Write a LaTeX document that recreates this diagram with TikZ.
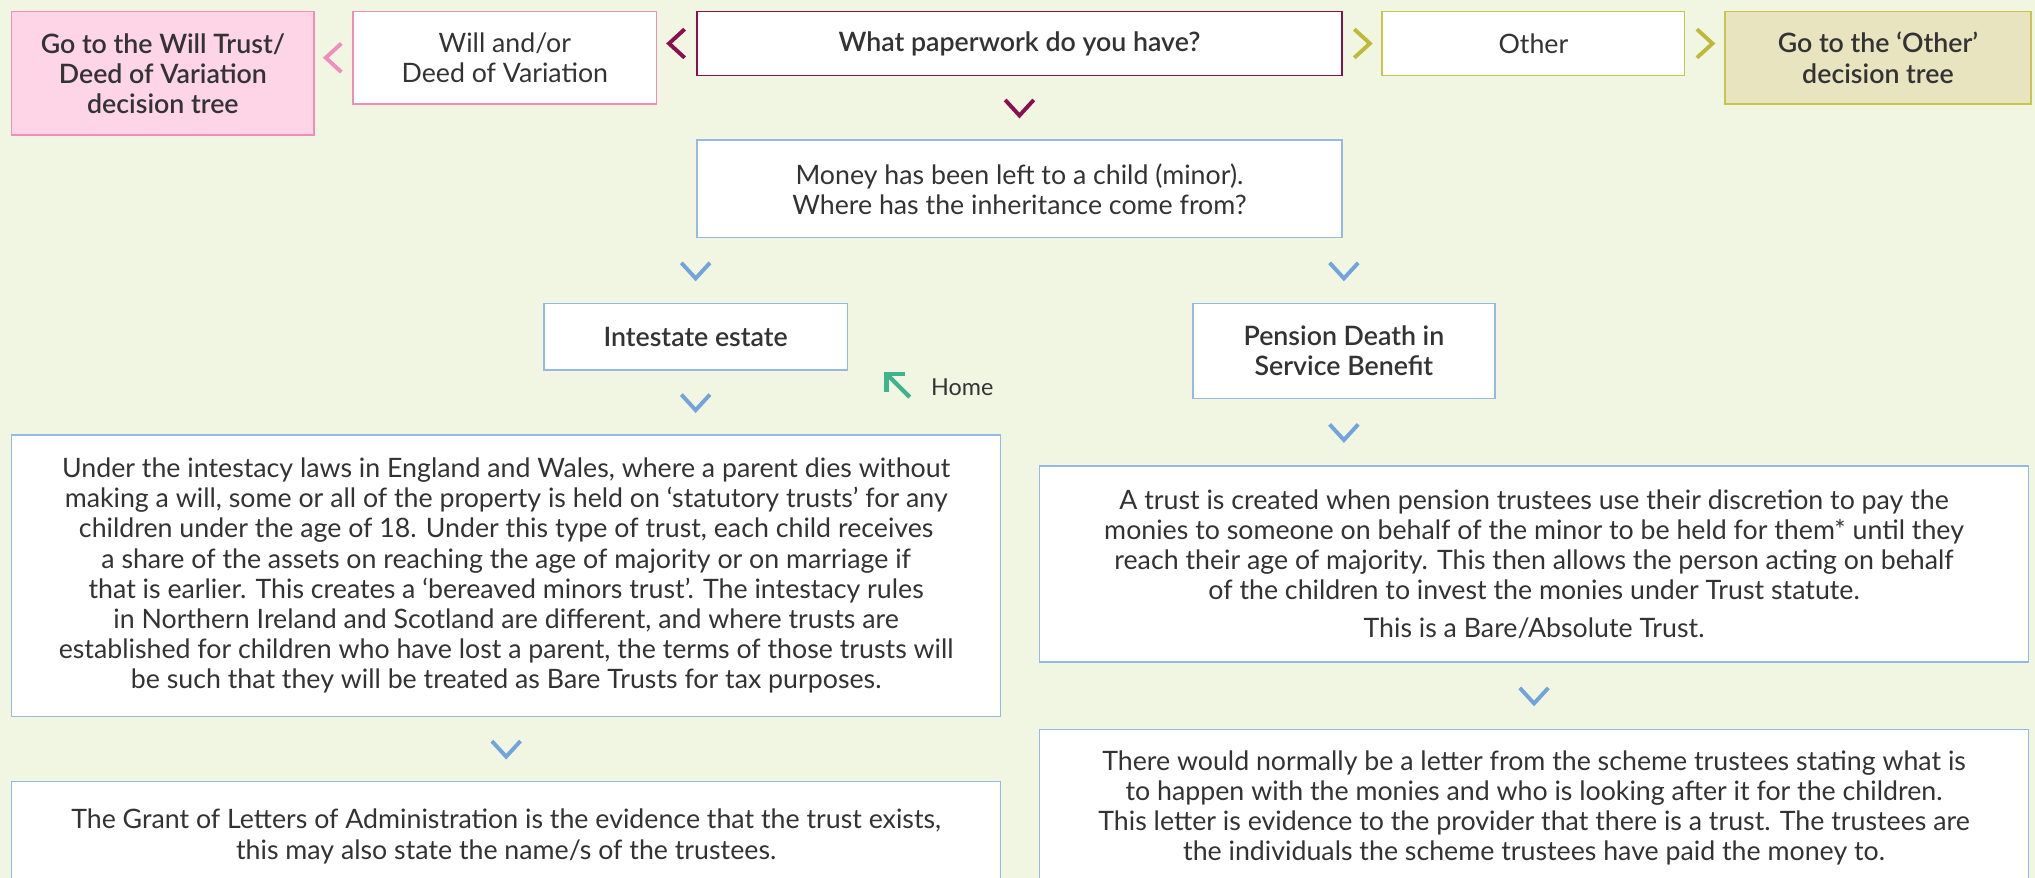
\documentclass[tikz,border=0pt]{standalone}
\usepackage{fontspec}
\setmainfont{Lato}[BoldFont={Lato Semibold}]
\usetikzlibrary{calc}
\definecolor{bg}{HTML}{F1F6E3}
\definecolor{txt}{HTML}{333333}
\definecolor{pinkfill}{HTML}{FDD5E7}
\definecolor{pinkline}{HTML}{F08DB8}
\definecolor{maroon}{HTML}{8B0F4D}
\definecolor{olive}{HTML}{C8C44E}
\definecolor{olivechev}{HTML}{BDBA3A}
\definecolor{othfill}{HTML}{E8E4BF}
\definecolor{blueline}{HTML}{94B9E3}
\definecolor{bluechev}{HTML}{72A3DA}
\definecolor{teal}{HTML}{3DB48C}
\tikzset{
  box/.style={draw, fill=white, align=center, inner sep=0pt, line width=0.6pt,
    text=txt, font=\fontsize{10.3}{11.6}\selectfont},
  sz/.style 2 args={minimum width=#1*0.5pt, minimum height=#2*0.5pt},
  bold/.style={font=\fontsize{10.3}{11.6}\selectfont\bfseries},
  chev/.style={line width=1.5pt, line cap=butt, line join=miter},
  chevdown/.pic={\draw[chev,pic actions] (-11,-6) -- (0,6) -- (11,-6);},
  chevleft/.pic={\draw[chev,pic actions] (6,-11) -- (-6,0) -- (6,11);},
  chevright/.pic={\draw[chev,pic actions] (-6,-11) -- (6,0) -- (-6,11);},
}
\begin{document}
\begin{tikzpicture}[x=0.5pt,y=-0.5pt]
\clip (0,0) rectangle (1568,676.5);
\fill[bg] (0,0) rectangle (1568,676.5);
% top row
\node[box, bold, sz={233}{95}, fill=pinkfill, draw=pinkline] (willtree) at (125.5,56.5) {Go to the Will Trust/\\Deed of Variation\\decision tree};
\node[box, sz={234}{71}, draw=pinkline] (will) at (389,44.5) {Will and/or\\Deed of Variation};
\node[box, bold, sz={497}{49}, draw=maroon] (paper) at (785.5,33.5) {What paperwork do you have?};
\node[box, sz={233}{49}, draw=olive] (other) at (1181.5,33.5) {Other};
\node[box, bold, sz={236}{71}, fill=othfill, draw=olive] (othertree) at (1447,44.5) {Go to the ‘Other’\\decision tree};
% second level
\node[box, sz={497}{75}, draw=blueline] (money) at (785.5,145.5) {Money has been left to a child (minor).\\Where has the inheritance come from?};
\node[box, bold, sz={234}{51}, draw=blueline] (intestate) at (536,259.5) {Intestate estate};
\node[box, bold, sz={233}{73}, draw=blueline] (pension) at (1035.5,270.5) {Pension Death in\\Service Benefit};
\node[box, sz={762}{217}, draw=blueline] (law) at (390,443.5) {Under the intestacy laws in England and Wales, where a parent dies without\\making a will, some or all of the property is held on ‘statutory trusts’ for any\\children under the age of 18. Under this type of trust, each child receives\\a share of the assets on reaching the age of majority or on marriage if\\that is earlier. This creates a ‘bereaved minors trust’. The intestacy rules\\in Northern Ireland and Scotland are different, and where trusts are\\established for children who have lost a parent, the terms of those trusts will\\be such that they will be treated as Bare Trusts for tax purposes.};
\node[box, sz={762}{151}, draw=blueline] (trust) at (1182,434.5) {A trust is created when pension trustees use their discretion to pay the\\monies to someone on behalf of the minor to be held for them* until they\\reach their age of majority. This then allows the person acting on behalf\\of the children to invest the monies under Trust statute.\\[3pt]This is a Bare/Absolute Trust.};
\node[box, sz={762}{85}, draw=blueline] (grant) at (390,644.5) {The Grant of Letters of Administration is the evidence that the trust exists,\\this may also state the name/s of the trustees.};
\node[box, sz={762}{121}, draw=blueline] (letter) at (1182,622.5) {There would normally be a letter from the scheme trustees stating what is\\to happen with the monies and who is looking after it for the children.\\This letter is evidence to the provider that there is a trust. The trustees are\\the individuals the scheme trustees have paid the money to.};
% home
\node[text=txt, font=\fontsize{9}{11}\selectfont, inner sep=0pt, anchor=west] (home) at (717,298) {Home};
\draw[teal, line width=1.6pt] ($(home.west)+(-16,8)$) -- ($(home.west)+(-34,-10)$);
\draw[teal, line width=1.6pt] ($(home.west)+(-34,4)$) -- ($(home.west)+(-34,-10)$) -- ($(home.west)+(-20,-10)$);
% chevrons
\pic[draw=pinkline] at ($(willtree.east |- will.center)!0.5!(will.west)$) {chevleft};
\pic[draw=maroon] at ($(will.east |- paper.center)!0.5!(paper.west)$) {chevleft};
\pic[draw=olivechev] at ($(paper.east)!0.5!(other.west)$) {chevright};
\pic[draw=olivechev] at ($(other.east)!0.5!(othertree.west |- other.center)$) {chevright};
\pic[draw=maroon] at ($(paper.south)!0.5!(money.north)$) {chevdown};
\pic[draw=bluechev] at ($(money.south -| intestate.north)!0.5!(intestate.north)$) {chevdown};
\pic[draw=bluechev] at ($(money.south -| pension.north)!0.5!(pension.north)$) {chevdown};
\pic[draw=bluechev] at ($(intestate.south)!0.5!(law.north -| intestate.south)$) {chevdown};
\pic[draw=bluechev] at ($(pension.south)!0.5!(trust.north -| pension.south)$) {chevdown};
\pic[draw=bluechev] at ($(law.south)!0.5!(grant.north)$) {chevdown};
\pic[draw=bluechev] at ($(trust.south)!0.5!(letter.north)$) {chevdown};
\end{tikzpicture}
\end{document}
